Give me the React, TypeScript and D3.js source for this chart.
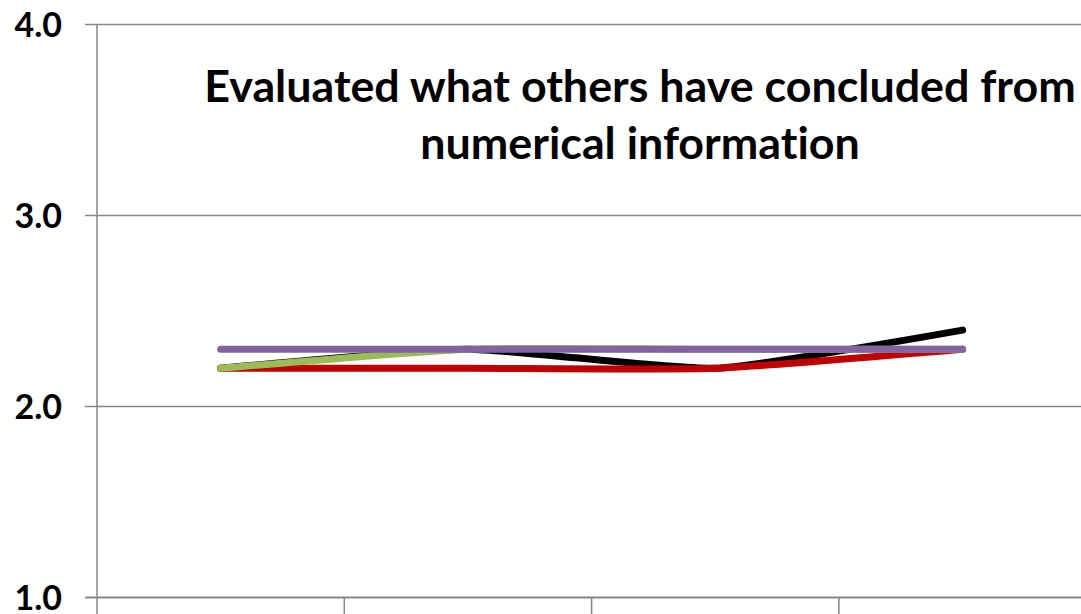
import React from "react";
import * as d3 from "d3";

const categories = ["A", "B", "C", "D"];
const yTicks = [1, 2, 3, 4];
const titleLines = ["Evaluated what others have concluded from", "numerical information"];

const blackSeries = [2.2, 2.3, 2.2, 2.4];
const redSeries = [2.2, 2.2, 2.2, 2.3];
const greenSeries = [2.2, 2.3, 2.3, 2.3];
const purpleSeries = [2.3, 2.3, 2.3, 2.3];

const W = 1081;
const H = 614;
const FONT = "Lato, 'Open Sans', sans-serif";

export default function App() {
  const plotLeft = 97;
  const step = 247.3;
  const x = d3
    .scaleBand<string>()
    .domain(categories)
    .range([plotLeft, plotLeft + step * categories.length])
    .paddingInner(0)
    .paddingOuter(0);
  const y = d3.scaleLinear().domain([1, 4]).range([597.5, 24.5]);

  const line = d3
    .line<number>()
    .x((_, i) => (x(categories[i]) as number) + x.bandwidth() / 2)
    .y((d) => y(d))
    .curve(d3.curveCardinal.tension(0.5));

  const series = [
    { values: blackSeries, color: "#000000" },
    { values: redSeries, color: "#C00000" },
    { values: greenSeries, color: "#9BBB59" },
    { values: purpleSeries, color: "#8064A2" },
  ];

  const grid = "#868686";
  const xTickPositions = categories.map((c) => x(c) as number).concat([plotLeft + step * categories.length]);

  return (
    <svg
      width={W}
      height={H}
      style={{ position: "absolute", left: 0, top: 0, background: "#fff", fontVariantLigatures: "none" }}
      fontFamily={FONT}
    >
      <rect x={0} y={0} width={W} height={H} fill="#fff" />
      {yTicks.slice(1).map((t) => (
        <line key={t} x1={85} x2={W} y1={y(t)} y2={y(t)} stroke={grid} strokeWidth={1.5} />
      ))}
      <line x1={plotLeft} x2={plotLeft} y1={y(4)} y2={y(1)} stroke={grid} strokeWidth={1.5} />
      <line x1={85} x2={W} y1={y(1)} y2={y(1)} stroke={grid} strokeWidth={2} />
      {xTickPositions.map((p, i) => (
        <line key={i} x1={p} x2={p} y1={y(1)} y2={y(1) + 20} stroke={grid} strokeWidth={1.5} />
      ))}
      {yTicks.map((t) => (
        <text
          key={t}
          x={62}
          y={y(t)}
          dy="0.36em"
          textAnchor="end"
          fontSize={34}
          fontWeight="bold"
          fill="#000"
        >
          {t.toFixed(1)}
        </text>
      ))}
      {series.map((s, i) => (
        <path
          key={i}
          d={line(s.values) || ""}
          fill="none"
          stroke={s.color}
          strokeWidth={7}
          strokeLinecap="round"
          strokeLinejoin="round"
        />
      ))}
      {titleLines.map((t, i) => (
        <text
          key={i}
          x={640}
          y={102 + i * 57}
          textAnchor="middle"
          fontSize={44.8}
          fontWeight="bold"
          fill="#000"
          style={{ fontVariantLigatures: "none" }}
        >
          {t}
        </text>
      ))}
    </svg>
  );
}
